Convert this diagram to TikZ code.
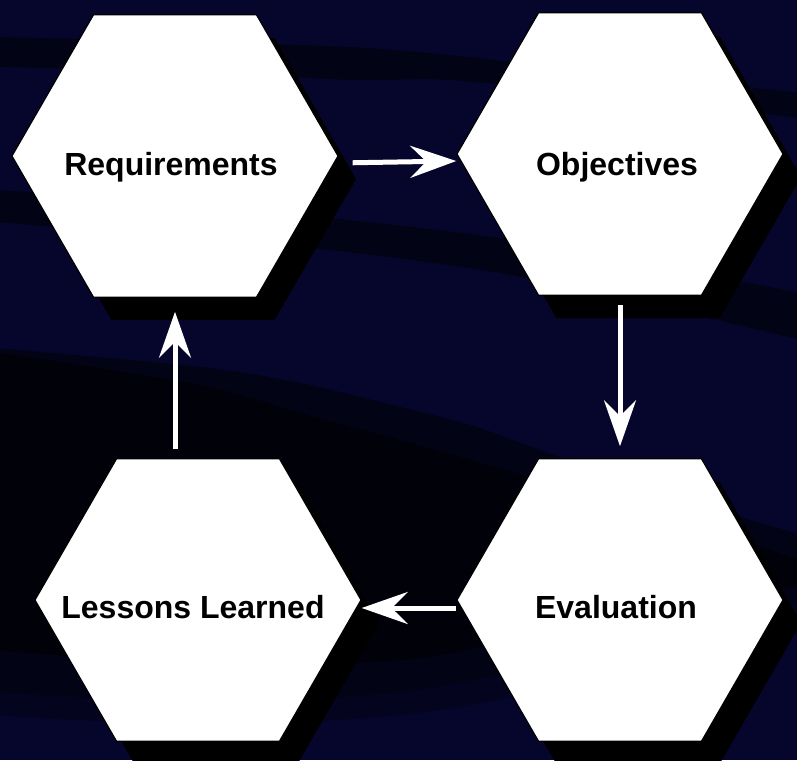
\documentclass[tikz,border=0pt]{standalone}
\usepackage{fontspec}
\setmainfont{Liberation Sans}
\usetikzlibrary{shapes.geometric,shadows,arrows.meta}
\definecolor{navy}{RGB}{6,6,44}
\definecolor{darkband}{RGB}{3,3,22}
\definecolor{midband}{RGB}{4,4,30}
\definecolor{nearblack}{RGB}{1,1,9}
\begin{document}
\begin{tikzpicture}[x=1pt,y=-1pt,
  hexbox/.style={regular polygon, regular polygon sides=6, minimum size=326pt, inner sep=0pt,
    fill=white, draw=black, line width=1.2pt,
    drop shadow={shadow xshift=18pt, shadow yshift=-23pt, fill=black, opacity=1}},
  lbl/.style={font=\bfseries\fontsize{32}{36}\selectfont, anchor=base, text=black, inner sep=0pt},
  flow/.style={draw=white, line width=5pt, -{Stealth[length=46pt,width=32pt,inset=16pt]}}
]
\useasboundingbox (0,0) rectangle (797,760);
% background
\fill[navy] (0,0) rectangle (797,760);
\fill[darkband] plot[smooth] coordinates {(-5,37) (200,42) (350,47) (450,55) (600,72) (802,93)}
  -- plot[smooth] coordinates {(802,118) (600,96) (450,80) (350,80) (200,72) (-5,67)} -- cycle;
\fill[darkband] plot[smooth] coordinates {(-5,190) (150,200) (330,218) (500,238) (650,265) (802,293)}
  -- plot[smooth] coordinates {(802,340) (650,305) (500,273) (330,250) (150,235) (-5,222)} -- cycle;
\fill[midband] plot[smooth] coordinates {(-5,348) (200,367) (300,383) (400,407) (470,425) (540,450) (650,490) (802,535)}
  -- plot[smooth] coordinates {(802,615) (540,690) (400,715) (200,725) (-5,715)} -- cycle;
\fill[darkband] plot[smooth] coordinates {(-5,348) (200,367) (300,383) (400,407) (470,425) (540,450) (650,490) (802,535)}
  -- plot[smooth] coordinates {(802,600) (540,665) (400,692) (200,702) (-5,692)} -- cycle;
\fill[nearblack] plot[smooth] coordinates {(-5,352) (200,385) (300,413) (400,440) (540,480) (650,515) (802,560)}
  -- plot[smooth] coordinates {(802,585) (540,635) (400,660) (200,665) (-5,650)} -- cycle;
% hexagons
\node[hexbox] (req) at (175,156) {};
\node[hexbox] (obj) at (620,154) {};
\node[hexbox] (eval) at (620,600) {};
\node[hexbox] (less) at (198,600) {};
% labels
\node[lbl] (reqt) at ([xshift=-4pt,yshift=-19pt]req.center) {Requirements};
\node[lbl] (objt) at ([xshift=-3pt,yshift=-21pt]obj.center) {Objectives};
\node[lbl] (evalt) at ([xshift=-4pt,yshift=-18pt]eval.center) {Evaluation};
\node[lbl] (lesst) at ([xshift=-5pt,yshift=-18pt]less.center) {Lessons Learned};
% connectors
\draw[flow, shorten <=14pt] ([yshift=-7pt]req.east) -- ([yshift=-7pt]obj.west);
\draw[flow, shorten <=9pt, shorten >=12pt] (obj.south) -- (eval.north);
\draw[flow] ([yshift=-8pt]eval.west) -- ([yshift=-8pt]less.east);
\draw[flow, shorten <=9pt, shorten >=14pt] (req.south |- less.north) -- (req.south);
\end{tikzpicture}
\end{document}
